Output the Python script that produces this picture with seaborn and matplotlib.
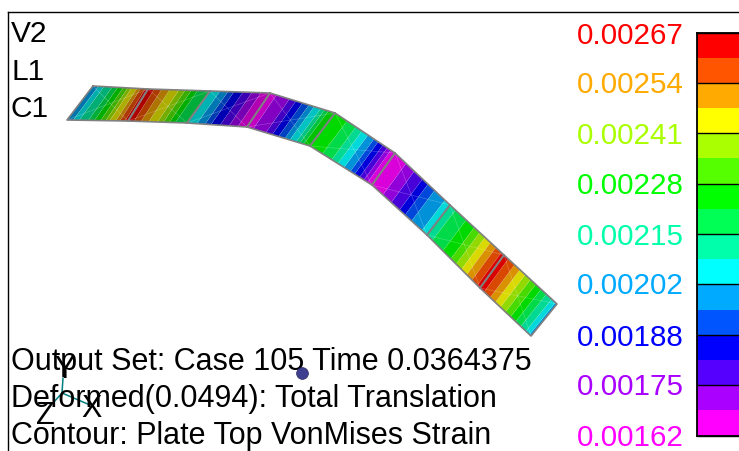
import numpy as np
import matplotlib
matplotlib.use("Agg")
import matplotlib.pyplot as plt
from matplotlib.colors import ListedColormap, to_rgb
import seaborn as sns

W, H = 739, 451

top_x = [93, 148, 210, 270, 335, 395, 450, 504, 557]
top_y = [86, 89, 91, 93, 113, 153, 205, 255, 304]
bot_x = [67, 128, 187, 247, 310, 372, 427, 480, 531]
bot_y = [120, 121, 123, 127, 146, 185, 235, 288, 336]

element_fracs = [
    [0, .1, .2, .35, .5, .6, .7, .8, .9, 1],
    [0, .1, .22, .35, .5, .65, .8, 1],
    [0, .1, .3, .4, .55, .7, .85, 1],
    [0, .1, .3, .4, .5, .6, .68, .78, .9, 1],
    [0, .2, .35, .45, .55, .65, .72, .8, .87, .93, 1],
    [0, .2, .35, .5, .6, .72, 1],
    [0, .3, .45, .55, .65, .75, .85, 1],
    [0, .08, .2, .3, .4, .5, .6, .7, .8, .9, .97, 1],
]
element_strain = [
    [.00198, .002014, .002079, .002145, .002243, .002309, .002407, .002473, .00257, .002637],
    [.002637, .002604, .002538, .002473, .002407, .002309, .00221, .002145],
    [.002079, .002046, .001948, .001882, .001817, .001751, .001686, .001653],
    [.001653, .001686, .001751, .001817, .001882, .001948, .002014, .002079, .00221, .002276],
    [.002276, .00221, .002145, .002079, .002014, .001948, .001882, .001817, .001751, .001686, .00164],
    [.00164, .001686, .001751, .001817, .001882, .001948, .002046],
    [.002112, .00221, .002276, .002342, .002407, .002473, .002538, .002637],
    [.002637, .002604, .002538, .002473, .002407, .002342, .002276, .00221, .002145, .002079, .002014, .001948],
]
element_shade = [.68, .68, .70, .76, .85, .85, .85, .85]

band_colors = ["#ff00ff", "#aa00ff", "#5500ff", "#0000ff", "#0055ff", "#00aaff",
               "#00ffff", "#00ffaa", "#00ff55", "#00ff00", "#55ff00", "#aaff00",
               "#ffff00", "#ffaa00", "#ff5500", "#ff0000"]
level_edges = [.00162, .001686, .001751, .001817, .001882, .001948, .002014, .002079, .002145,
               .00221, .002276, .002342, .002407, .002473, .002538, .002604, .00267]
scale_labels = ["0.00267", "0.00254", "0.00241", "0.00228", "0.00215",
                "0.00202", "0.00188", "0.00175", "0.00162"]
scale_colors = ["#ff0000", "#ffaa00", "#aaff00", "#00ff00", "#00ffaa",
                "#00aaff", "#0000ff", "#aa00ff", "#ff00ff"]
scale_y = [36, 85, 136, 186, 237, 286, 338, 387, 438]
corner_labels = ["V2", "L1", "C1"]
corner_y = [42, 80, 117]
info_lines = ["Output Set: Case 105 Time 0.0364375",
              "Deformed(0.0494): Total Translation",
              "Contour: Plate Top VonMises Strain"]
info_y = [370, 407, 444]
triad_origin = (62, 393)
triad_ends = {"Y": (63, 378), "X": (90, 405), "Z": (53, 403)}
triad_labels = {"Y": (65, 370), "X": (92, 409), "Z": (45, 416)}

sns.set_theme(style="white")
plt.rcParams["font.family"] = ["Liberation Sans", "DejaVu Sans"]
fig = plt.figure(figsize=(W / 100, H / 100), dpi=100)
ax = fig.add_axes([8 / W, 0, 1 - 8 / W, 1 - 12 / H])

for e, (fr, vals) in enumerate(zip(element_fracs, element_strain)):
    fr = np.array(fr)
    lit = [tuple(element_shade[e] * c for c in to_rgb(h)) for h in band_colors]
    xt = top_x[e] + fr * (top_x[e + 1] - top_x[e])
    yt = top_y[e] + fr * (top_y[e + 1] - top_y[e])
    xb = bot_x[e] + fr * (bot_x[e + 1] - bot_x[e])
    yb = bot_y[e] + fr * (bot_y[e + 1] - bot_y[e])
    X = np.vstack([xt, xb])
    Y = np.vstack([yt, yb])
    Z = np.vstack([vals, vals])
    ax.contourf(X, Y, Z, levels=level_edges, colors=lit, extend="neither", antialiased=True)
    ax.contour(X, Y, Z, levels=level_edges, colors="white", linewidths=0.3, alpha=0.2)
    ax.plot([top_x[e], bot_x[e + 1]], [top_y[e], bot_y[e + 1]], color="white", lw=0.5, alpha=0.25)
    ax.plot([bot_x[e], top_x[e + 1]], [bot_y[e], top_y[e + 1]], color="white", lw=0.5, alpha=0.25)

gray = "#808080"
sns.lineplot(x=top_x + bot_x[::-1] + top_x[:1], y=top_y + bot_y[::-1] + top_y[:1],
             sort=False, estimator=None, color=gray, linewidth=1.2, ax=ax)
for tx, ty, bx, by in list(zip(top_x, top_y, bot_x, bot_y))[1:-1]:
    sns.lineplot(x=[tx, bx], y=[ty, by], sort=False, estimator=None, color=gray, linewidth=1.5, ax=ax)

for k, (ex, ey) in triad_ends.items():
    sns.lineplot(x=[triad_origin[0], ex], y=[triad_origin[1], ey], sort=False, estimator=None,
                 color="#008080", linewidth=1.1, ax=ax)
    ax.text(*triad_labels[k], k, fontsize=22, color="black", ha="center", va="center")

ax.scatter([301.5], [373], s=72, color="#3f3f92", edgecolor="#2a2a60", linewidth=0.5, zorder=4)

for s, y in zip(corner_labels, corner_y):
    ax.text(11, y, s, fontsize=21.5, color="black", va="baseline")
for s, y in zip(info_lines, info_y):
    ax.text(11, y, s, fontsize=22, color="black", va="baseline")
for s, c, y in zip(scale_labels, scale_colors, scale_y):
    ax.text(684, y, s, fontsize=21.3, color=c, ha="right", va="center")

ax.set_xlim(8, W)
ax.set_ylim(H, 12)
ax.set_xlabel("")
ax.set_ylabel("")
ax.set_xticks([])
ax.set_yticks([])
for side in ["right", "bottom"]:
    ax.spines[side].set_visible(False)
for side in ["left", "top"]:
    ax.spines[side].set_color("black")
    ax.spines[side].set_linewidth(1.0)

cax = fig.add_axes([696.5 / W, 1 - 435.5 / H, (W - 696.5) / W, 403 / H])
matrix = np.arange(len(band_colors))[::-1].reshape(-1, 1)
sns.heatmap(matrix, ax=cax, cmap=ListedColormap(band_colors), cbar=False,
            xticklabels=False, yticklabels=False, vmin=-0.5, vmax=15.5)
for i in range(0, 17, 2):
    cax.axhline(i, color="black", lw=1.0, clip_on=False)
for side in ["left", "top", "bottom"]:
    cax.spines[side].set_visible(True)
    cax.spines[side].set_color("black")
    cax.spines[side].set_linewidth(1.3)

fig.savefig("out.png", dpi=100)
